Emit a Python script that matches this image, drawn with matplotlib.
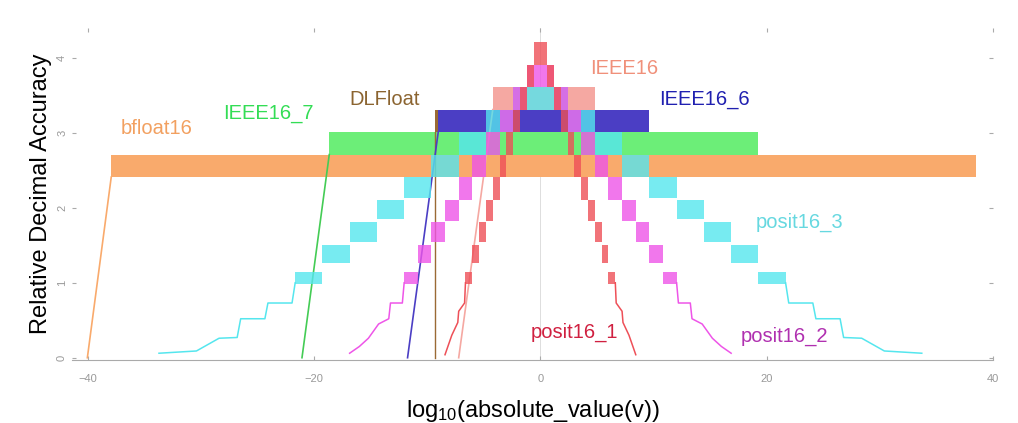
import matplotlib
matplotlib.use("Agg")
import matplotlib.pyplot as plt
import numpy as np

plt.rcParams['font.family'] = ['Liberation Sans', 'DejaVu Sans']
plt.rcParams['mathtext.default'] = 'regular'

# float formats: flat band (x range, accuracy range) + subnormal ramp
bf16_band_x = [-37.93, 38.53]
bf16_band_y = [2.41, 2.71]
bf16_ramp_x = [-40.04, -37.93]
bf16_ramp_y = [0.0, 2.41]

ieee7_band_x = [-18.66, 19.26]
ieee7_band_y = [2.71, 3.01]
ieee7_ramp_x = [-21.07, -18.66]
ieee7_ramp_y = [0.0, 2.71]

ieee6_band_x = [-9.03, 9.63]
ieee6_band_y = [3.01, 3.31]
ieee6_ramp_x = [-11.74, -9.03]
ieee6_ramp_y = [0.0, 3.01]

dlf_band_x = [-9.33, 9.63]
dlf_band_y = [3.01, 3.31]
dlf_edge_x = [-9.33, -9.33]
dlf_edge_y = [0.0, 3.01]

ieee16_band_x = [-4.21, 4.82]
ieee16_band_y = [3.31, 3.61]
ieee16_ramp_x = [-7.22, -4.21]
ieee16_ramp_y = [0.0, 3.31]

# posits: regime blocks on the positive side (mirrored for negative), then thin tail
p1_edges = [0.0, 0.602, 1.204, 1.806, 2.408, 3.010, 3.612, 4.214, 4.816, 5.418, 6.020, 6.622]
p1_lo = [3.91, 3.61, 3.31, 3.01, 2.71, 2.41, 2.11, 1.83, 1.54, 1.26, 0.99]
p1_hi = [4.21, 3.91, 3.61, 3.31, 3.01, 2.71, 2.41, 2.11, 1.81, 1.51, 1.15]
p1_tail_x = [6.622, 6.70, 7.22, 7.30, 7.83, 8.43]
p1_tail_y = [1.0, 0.73, 0.62, 0.47, 0.30, 0.04]

p2_edges = [0.0, 1.204, 2.408, 3.612, 4.816, 6.020, 7.224, 8.428, 9.632, 10.836, 12.04]
p2_lo = [3.61, 3.31, 3.01, 2.71, 2.41, 2.11, 1.83, 1.54, 1.26, 0.99]
p2_hi = [3.91, 3.61, 3.31, 3.01, 2.71, 2.41, 2.11, 1.81, 1.51, 1.15]
p2_tail_x = [12.04, 12.2, 13.25, 13.4, 14.3, 15.2, 16.0, 16.86]
p2_tail_y = [1.0, 0.73, 0.73, 0.52, 0.45, 0.26, 0.15, 0.06]

p3_edges = [0.0, 2.408, 4.816, 7.224, 9.632, 12.04, 14.448, 16.856, 19.264, 21.672]
p3_lo = [3.31, 3.01, 2.71, 2.41, 2.13, 1.85, 1.55, 1.26, 0.99]
p3_hi = [3.61, 3.31, 3.01, 2.71, 2.41, 2.11, 1.81, 1.51, 1.15]
p3_tail_x = [21.672, 21.95, 24.08, 24.35, 26.49, 26.8, 28.4, 30.4, 33.71]
p3_tail_y = [1.0, 0.73, 0.73, 0.52, 0.52, 0.27, 0.26, 0.09, 0.06]

c_bf16 = '#F9AA6C'
c_ieee7 = '#6CEE78'
c_ieee6 = '#4B3EC4'
c_dlf = '#9A6A34'
c_ieee16 = '#F5A8A2'
c_p1 = '#EE5058'
c_p2 = '#EE55E8'
c_p3 = '#55E6EE'

fig = plt.figure(figsize=(10.18, 4.23), dpi=100)
ax = fig.add_axes([0.0707, 0.149, 0.9047, 0.785])


def band(xr, yr, color, alpha=1.0, z=2):
    ax.fill_between(xr, [yr[0], yr[0]], [yr[1], yr[1]], color=color,
                    alpha=alpha, linewidth=0, zorder=z)


def posit(edges, lo, hi, tx, ty, color, z):
    edges = np.array(edges)
    lo = np.array(lo)
    hi = np.array(hi)
    w = np.diff(edges)
    ax.bar(edges[:-1], hi - lo, width=w, bottom=lo, align='edge',
           color=color, alpha=0.8, linewidth=0, zorder=z)
    ax.bar(-edges[1:], hi - lo, width=w, bottom=lo, align='edge',
           color=color, alpha=0.8, linewidth=0, zorder=z)
    tx = np.array(tx)
    ax.plot(tx, ty, color=color, lw=1.1, zorder=z)
    ax.plot(-tx, ty, color=color, lw=1.1, zorder=z)


ax.axvline(0, color='#dddddd', lw=0.7, zorder=1)

band(bf16_band_x, bf16_band_y, c_bf16)
ax.plot(bf16_ramp_x, bf16_ramp_y, color=c_bf16, lw=1.2, zorder=2)
band(ieee7_band_x, ieee7_band_y, c_ieee7)
ax.plot(ieee7_ramp_x, ieee7_ramp_y, color='#44CC55', lw=1.2, zorder=2)
band(dlf_band_x, dlf_band_y, c_dlf)
ax.plot(dlf_edge_x, dlf_edge_y, color=c_dlf, lw=1.0, zorder=2)
band(ieee6_band_x, ieee6_band_y, c_ieee6)
ax.plot(ieee6_ramp_x, ieee6_ramp_y, color=c_ieee6, lw=1.2, zorder=2)
band(ieee16_band_x, ieee16_band_y, c_ieee16)
ax.plot(ieee16_ramp_x, ieee16_ramp_y, color=c_ieee16, lw=1.2, zorder=2)

posit(p3_edges, p3_lo, p3_hi, p3_tail_x, p3_tail_y, c_p3, 3)
posit(p2_edges, p2_lo, p2_hi, p2_tail_x, p2_tail_y, c_p2, 4)
posit(p1_edges, p1_lo, p1_hi, p1_tail_x, p1_tail_y, c_p1, 5)

labels = [
    ('bfloat16', -33.9, 3.06, '#F2A060'),
    ('IEEE16_7', -24.0, 3.26, '#33DD55'),
    ('DLFloat', -13.8, 3.44, '#8B6430'),
    ('IEEE16', 7.4, 3.86, '#F0907A'),
    ('IEEE16_6', 14.5, 3.44, '#2020B0'),
    ('posit16_3', 22.9, 1.81, '#66D8E0'),
    ('posit16_1', 3.0, 0.34, '#D02040'),
    ('posit16_2', 21.6, 0.28, '#B030B0'),
]
for txt, x, y, col in labels:
    ax.text(x, y, txt, color=col, fontsize=14.5, ha='center', va='center', zorder=6)

ax.set_xlim(-41.4, 40)
ax.set_ylim(-0.03, 4.4)
ax.set_xticks([-40, -20, 0, 20, 40])
ax.set_yticks([0, 1, 2, 3, 4])
ax.tick_params(direction='in', length=3, color='#aaaaaa', labelcolor='#999999',
               labelsize=8, top=True, right=True)
ax.tick_params(axis='x', pad=10)
for lab in ax.get_yticklabels():
    lab.set_rotation(90)
    lab.set_va('center')
for s in ['top', 'right', 'left']:
    ax.spines[s].set_visible(False)
ax.spines['bottom'].set_color('#aaaaaa')

ax.set_xlabel('log$_{10}$(absolute_value(v))', fontsize=17, labelpad=10)
ax.set_ylabel('Relative Decimal Accuracy', fontsize=17, labelpad=4)

fig.savefig('out.png', dpi=100)
